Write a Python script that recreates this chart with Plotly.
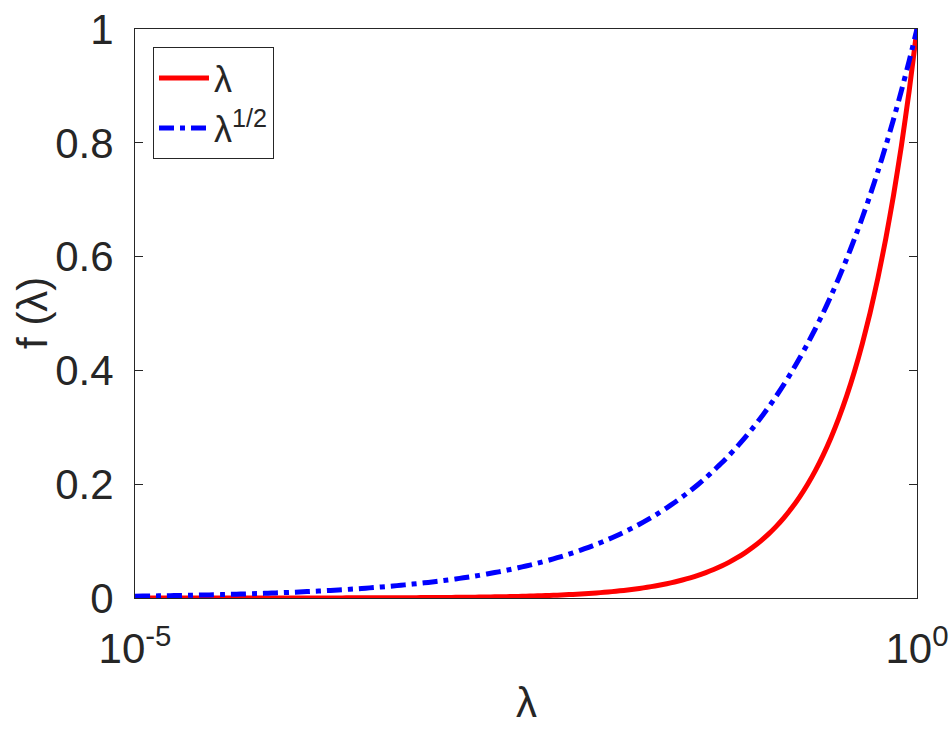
import plotly.graph_objects as go

# lambda sample points (log spaced)
lambda_values = [
    1.000e-5, 1.122e-5, 1.259e-5, 1.413e-5, 1.585e-5, 1.778e-5, 1.995e-5, 2.239e-5, 2.512e-5, 2.818e-5,
    3.162e-5, 3.548e-5, 3.981e-5, 4.467e-5, 5.012e-5, 5.623e-5, 6.310e-5, 7.079e-5, 7.943e-5, 8.913e-5,
    1.000e-4, 1.122e-4, 1.259e-4, 1.413e-4, 1.585e-4, 1.778e-4, 1.995e-4, 2.239e-4, 2.512e-4, 2.818e-4,
    3.162e-4, 3.548e-4, 3.981e-4, 4.467e-4, 5.012e-4, 5.623e-4, 6.310e-4, 7.079e-4, 7.943e-4, 8.913e-4,
    1.000e-3, 1.122e-3, 1.259e-3, 1.413e-3, 1.585e-3, 1.778e-3, 1.995e-3, 2.239e-3, 2.512e-3, 2.818e-3,
    3.162e-3, 3.548e-3, 3.981e-3, 4.467e-3, 5.012e-3, 5.623e-3, 6.310e-3, 7.079e-3, 7.943e-3, 8.913e-3,
    1.000e-2, 1.122e-2, 1.259e-2, 1.413e-2, 1.585e-2, 1.778e-2, 1.995e-2, 2.239e-2, 2.512e-2, 2.818e-2,
    3.162e-2, 3.548e-2, 3.981e-2, 4.467e-2, 5.012e-2, 5.623e-2, 6.310e-2, 7.079e-2, 7.943e-2, 8.913e-2,
    0.1000, 0.1122, 0.1259, 0.1413, 0.1585, 0.1778, 0.1995, 0.2239, 0.2512, 0.2818,
    0.3162, 0.3548, 0.3981, 0.4467, 0.5012, 0.5623, 0.6310, 0.7079, 0.7943, 0.8913,
    1.0,
]

# f(lambda) = lambda (red solid)
f_linear = [
    1.000e-5, 1.122e-5, 1.259e-5, 1.413e-5, 1.585e-5, 1.778e-5, 1.995e-5, 2.239e-5, 2.512e-5, 2.818e-5,
    3.162e-5, 3.548e-5, 3.981e-5, 4.467e-5, 5.012e-5, 5.623e-5, 6.310e-5, 7.079e-5, 7.943e-5, 8.913e-5,
    1.000e-4, 1.122e-4, 1.259e-4, 1.413e-4, 1.585e-4, 1.778e-4, 1.995e-4, 2.239e-4, 2.512e-4, 2.818e-4,
    3.162e-4, 3.548e-4, 3.981e-4, 4.467e-4, 5.012e-4, 5.623e-4, 6.310e-4, 7.079e-4, 7.943e-4, 8.913e-4,
    1.000e-3, 1.122e-3, 1.259e-3, 1.413e-3, 1.585e-3, 1.778e-3, 1.995e-3, 2.239e-3, 2.512e-3, 2.818e-3,
    3.162e-3, 3.548e-3, 3.981e-3, 4.467e-3, 5.012e-3, 5.623e-3, 6.310e-3, 7.079e-3, 7.943e-3, 8.913e-3,
    1.000e-2, 1.122e-2, 1.259e-2, 1.413e-2, 1.585e-2, 1.778e-2, 1.995e-2, 2.239e-2, 2.512e-2, 2.818e-2,
    3.162e-2, 3.548e-2, 3.981e-2, 4.467e-2, 5.012e-2, 5.623e-2, 6.310e-2, 7.079e-2, 7.943e-2, 8.913e-2,
    0.1000, 0.1122, 0.1259, 0.1413, 0.1585, 0.1778, 0.1995, 0.2239, 0.2512, 0.2818,
    0.3162, 0.3548, 0.3981, 0.4467, 0.5012, 0.5623, 0.6310, 0.7079, 0.7943, 0.8913,
    1.0,
]

# f(lambda) = lambda^(1/2) (blue dash-dot)
f_sqrt = [
    3.162e-3, 3.350e-3, 3.548e-3, 3.758e-3, 3.981e-3, 4.217e-3, 4.467e-3, 4.732e-3, 5.012e-3, 5.309e-3,
    5.623e-3, 5.957e-3, 6.310e-3, 6.683e-3, 7.079e-3, 7.499e-3, 7.943e-3, 8.414e-3, 8.913e-3, 9.441e-3,
    1.000e-2, 1.059e-2, 1.122e-2, 1.189e-2, 1.259e-2, 1.334e-2, 1.413e-2, 1.496e-2, 1.585e-2, 1.679e-2,
    1.778e-2, 1.884e-2, 1.995e-2, 2.113e-2, 2.239e-2, 2.371e-2, 2.512e-2, 2.661e-2, 2.818e-2, 2.985e-2,
    3.162e-2, 3.350e-2, 3.548e-2, 3.758e-2, 3.981e-2, 4.217e-2, 4.467e-2, 4.732e-2, 5.012e-2, 5.309e-2,
    5.623e-2, 5.957e-2, 6.310e-2, 6.683e-2, 7.079e-2, 7.499e-2, 7.943e-2, 8.414e-2, 8.913e-2, 9.441e-2,
    0.1000, 0.1059, 0.1122, 0.1189, 0.1259, 0.1334, 0.1413, 0.1496, 0.1585, 0.1679,
    0.1778, 0.1884, 0.1995, 0.2113, 0.2239, 0.2371, 0.2512, 0.2661, 0.2818, 0.2985,
    0.3162, 0.3350, 0.3548, 0.3758, 0.3981, 0.4217, 0.4467, 0.4732, 0.5012, 0.5309,
    0.5623, 0.5957, 0.6310, 0.6683, 0.7079, 0.7499, 0.7943, 0.8414, 0.8913, 0.9441,
    1.0,
]

x_tick_vals = [1e-5, 1.0]
x_tick_text = ["10<sup>-5</sup>", "10<sup>0</sup>"]
y_tick_vals = [0, 0.2, 0.4, 0.6, 0.8, 1]
y_tick_text = ["0", "0.2", "0.4", "0.6", "0.8", "1"]

FONT = "Liberation Sans, Arial, sans-serif"
DARK = "#262626"

fig = go.Figure()
fig.add_trace(go.Scatter(
    x=lambda_values, y=f_linear, mode="lines", name="λ",
    line=dict(color="#ff0000", width=5, shape="spline", smoothing=0.6),
))
fig.add_trace(go.Scatter(
    x=lambda_values, y=f_sqrt, mode="lines", name="λ<sup>1/2</sup>",
    line=dict(color="#0000ff", width=5, dash="15px,6px,5px,6px", shape="spline", smoothing=0.6),
))

fig.update_layout(
    width=952, height=730,
    margin=dict(l=135, r=35, t=29, b=132),
    paper_bgcolor="white", plot_bgcolor="white",
    font=dict(family=FONT, color=DARK),
    showlegend=True,
    legend=dict(
        x=0.023, y=0.968, xanchor="left", yanchor="top",
        bordercolor=DARK, borderwidth=1, bgcolor="white",
        font=dict(size=36, family=FONT, color=DARK),
        tracegroupgap=0, itemwidth=50,
    ),
    xaxis=dict(
        type="log", range=[-5, 0], automargin=False,
        tickvals=x_tick_vals, ticktext=x_tick_text,
        ticks="inside", ticklen=8, tickcolor=DARK,
        showline=True, linecolor=DARK, linewidth=1, mirror="ticks",
        showgrid=False, zeroline=False,
        tickfont=dict(size=42, family=FONT, color=DARK),
        ticklabelstandoff=14,
    ),
    yaxis=dict(
        range=[0, 1], automargin=False,
        tickvals=y_tick_vals, ticktext=y_tick_text,
        ticks="inside", ticklen=8, tickcolor=DARK,
        showline=True, linecolor=DARK, linewidth=1, mirror="ticks",
        showgrid=False, zeroline=False,
        tickfont=dict(size=42, family=FONT, color=DARK),
        ticklabelstandoff=12,
    ),
    annotations=[
        dict(text="λ", xref="paper", yref="paper", x=0.5, y=-0.1845,
             xanchor="center", yanchor="middle", showarrow=False,
             font=dict(size=42, family=FONT, color=DARK)),
        dict(text="f (λ)", xref="paper", yref="paper", x=-0.1304, y=0.501,
             xanchor="center", yanchor="middle", showarrow=False, textangle=-90,
             font=dict(size=42, family=FONT, color=DARK)),
    ],
)

# remove the default 8px page margin so the figure fills the window exactly
fig.write_html(
    "out.html",
    config={"displayModeBar": False},
    post_script="document.body.style.margin='0';document.body.style.overflow='hidden';",
)
